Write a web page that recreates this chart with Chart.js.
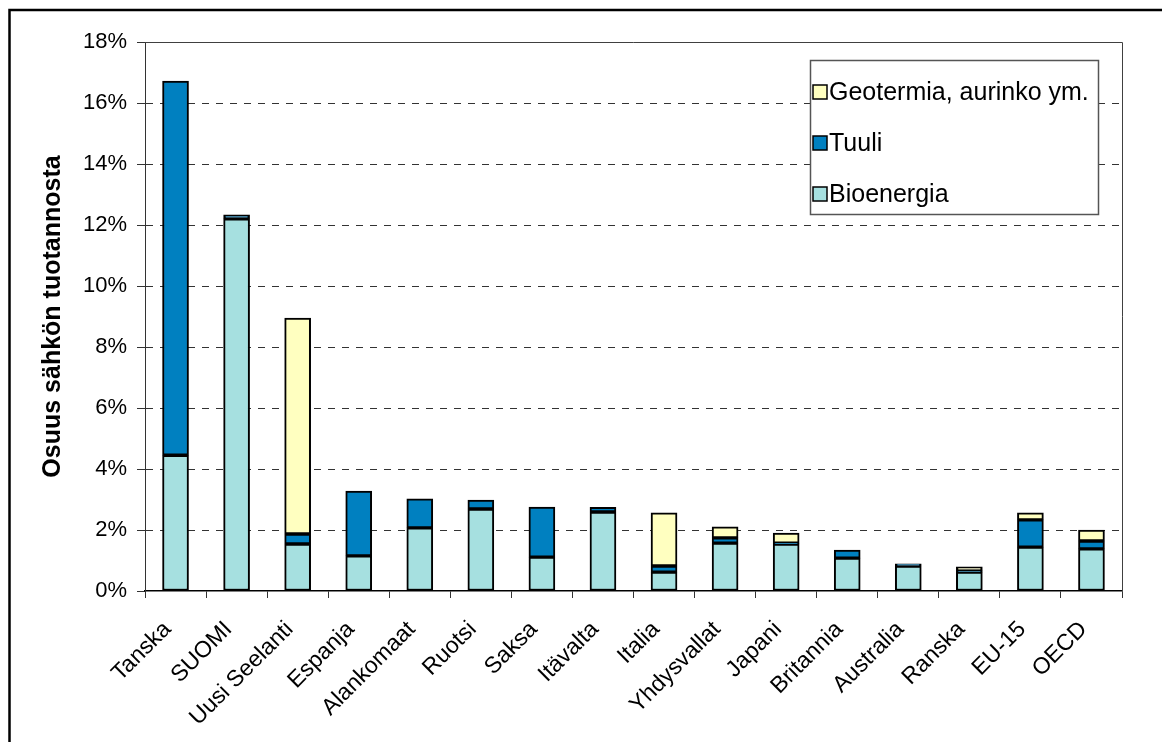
<!DOCTYPE html>
<html>
<head>
<meta charset="utf-8">
<script src="https://cdn.jsdelivr.net/npm/chart.js@4.4.1/dist/chart.umd.min.js"></script>
<style>
  html, body { margin: 0; padding: 0; background: #fff; }
  #wrap { width: 1162px; height: 742px; }
</style>
</head>
<body>
<div id="wrap"><canvas id="kaavio" width="1162" height="742"></canvas></div>
<script>
// maat ja osuudet (% sähkön tuotannosta)
const maat = ['Tanska', 'SUOMI', 'Uusi Seelanti', 'Espanja', 'Alankomaat', 'Ruotsi', 'Saksa', 'Itävalta',
    'Italia', 'Yhdysvallat', 'Japani', 'Britannia', 'Australia', 'Ranska', 'EU-15', 'OECD']
const bioenergia = [4.45, 12.2, 1.54, 1.15, 2.07, 2.69, 1.11, 2.59, 0.62, 1.57, 1.54, 1.08, 0.82, 0.62, 1.44, 1.38]
const tuuli = [12.27, 0.13, 0.33, 2.13, 0.95, 0.29, 1.64, 0.15, 0.20, 0.17, 0.03, 0.26, 0.07, 0.04, 0.89, 0.26]
const geotermia = [0, 0, 7.08, 0, 0, 0, 0, 0, 1.74, 0.36, 0.33, 0, 0, 0.13, 0.23, 0.36]
const yTicks = [0, 2, 4, 6, 8, 10, 12, 14, 16, 18]

const fontti = '"Liberation Sans", Arial, sans-serif'

// kehys, kuvaajan reunat ja selite
const piirto = {
    id: 'piirto',
    afterDraw(chart) {
        const ctx = chart.ctx
        const a = chart.chartArea
        ctx.save()
        ctx.strokeStyle = '#000'
        ctx.lineWidth = 2.5
        ctx.strokeRect(9.5, 10, 1170, 760)

        ctx.strokeStyle = '#404040'
        ctx.lineWidth = 1
        ctx.beginPath()
        ctx.moveTo(a.left, a.top + 0.5)
        ctx.lineTo(a.right + 0.5, a.top + 0.5)
        ctx.lineTo(a.right + 0.5, a.bottom)
        ctx.stroke()

        // selite
        const lx = 810, ly = 60, lw = 288, lh = 154
        ctx.fillStyle = '#fff'
        ctx.fillRect(lx, ly, lw, lh)
        ctx.strokeStyle = '#555'
        ctx.lineWidth = 1.5
        ctx.strokeRect(lx + 0.5, ly + 0.5, lw, lh)
        const sarjat = chart.data.datasets.slice().reverse()
        ctx.font = '25px ' + fontti
        ctx.textBaseline = 'middle'
        sarjat.forEach((ds, i) => {
            const cy = 92 + i * 51
            ctx.fillStyle = ds.backgroundColor
            ctx.fillRect(813, cy - 7, 14, 14)
            ctx.strokeStyle = '#000'
            ctx.lineWidth = 1.5
            ctx.strokeRect(813, cy - 7, 14, 14)
            ctx.fillStyle = '#000'
            ctx.fillText(ds.label, 829, cy + 1)
        })
        ctx.restore()
    }
}

const ctx = document.getElementById('kaavio').getContext('2d')

const kaavio = new Chart(ctx, {
    type: 'bar',
    data: {
        labels: maat,
        datasets: [
            { label: 'Bioenergia', data: bioenergia, backgroundColor: '#A6E0E0' },
            { label: 'Tuuli', data: tuuli, backgroundColor: '#0080C0' },
            { label: 'Geotermia, aurinko ym.', data: geotermia, backgroundColor: '#FFFFC0' }
        ].map(d => Object.assign(d, {
            borderColor: '#000',
            borderWidth: 2,
            borderSkipped: false,
            barThickness: 26
        }))
    },
    options: {
        responsive: false,
        animation: false,
        layout: { padding: { top: 42, right: 40, left: 0, bottom: 0 } },
        plugins: {
            legend: { display: false },
            tooltip: { enabled: false }
        },
        scales: {
            x: {
                stacked: true,
                afterFit: s => { s.height = 151 },
                grid: {
                    offset: true,
                    drawOnChartArea: false,
                    drawTicks: true,
                    tickLength: 7,
                    tickColor: '#333',
                    tickWidth: 1
                },
                border: { color: '#000', width: 1.5 },
                ticks: {
                    color: '#000',
                    font: { family: fontti, size: 23 },
                    maxRotation: 45,
                    minRotation: 45,
                    autoSkip: false,
                    padding: 18,
                    labelOffset: -8
                }
            },
            y: {
                stacked: true,
                min: 0,
                max: 18,
                afterFit: s => { s.width = 145 },
                afterBuildTicks: s => { s.ticks = yTicks.map(v => ({ value: v })) },
                grid: {
                    color: c => (c.tick.value === 0 || c.tick.value === 18) ? 'rgba(0,0,0,0)' : '#333',
                    lineWidth: 1,
                    drawTicks: true,
                    tickLength: 8,
                    tickColor: '#333',
                    tickBorderDash: []
                },
                border: { color: '#333', width: 1, dash: [7, 7] },
                ticks: {
                    color: '#000',
                    font: { family: fontti, size: 22 },
                    padding: 10,
                    callback: v => v + '%'
                },
                title: {
                    display: true,
                    text: 'Osuus sähkön tuotannosta',
                    color: '#000',
                    font: { family: fontti, size: 25, weight: 'bold' },
                    padding: { top: 38, bottom: 0 }
                }
            }
        }
    },
    plugins: [piirto]
})
</script>
</body>
</html>
